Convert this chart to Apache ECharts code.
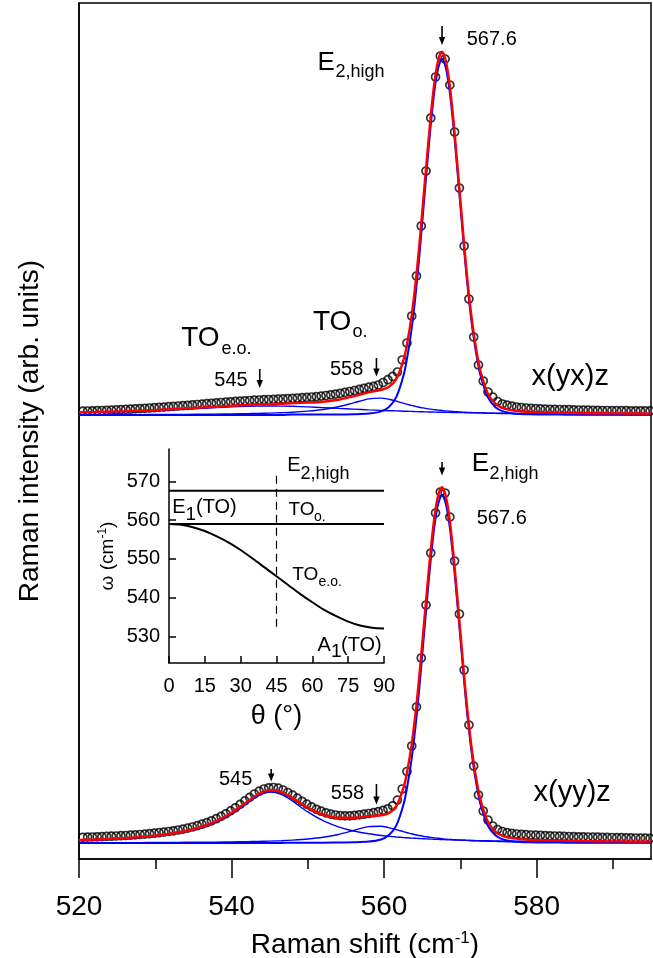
<!DOCTYPE html>
<html>
<head>
<meta charset="utf-8">
<title>Raman spectra</title>
<script src="https://cdn.jsdelivr.net/npm/echarts@6.0.0/dist/echarts.min.js"></script>
<style>
  html, body { margin: 0; padding: 0; background: #fff; }
  #chart-container { width: 653px; height: 958px; }
</style>
</head>
<body>
<div id="chart-container"></div>
<script>
// Measured spectra (circles): Raman shift in cm-1, intensity in arb. units (stacked)
const ramanShift = [
  520.5, 521.125, 521.75, 522.375, 523, 523.625, 524.25, 524.875, 525.5, 526.125,
  526.75, 527.375, 528, 528.625, 529.25, 529.875, 530.5, 531.125, 531.75, 532.375,
  533, 533.625, 534.25, 534.875, 535.5, 536.125, 536.75, 537.375, 538, 538.625,
  539.25, 539.875, 540.5, 541.125, 541.75, 542.375, 543, 543.625, 544.25, 544.875,
  545.5, 546.125, 546.75, 547.375, 548, 548.625, 549.25, 549.875, 550.5, 551.125,
  551.75, 552.375, 553, 553.625, 554.25, 554.875, 555.5, 556.125, 556.75, 557.375,
  558, 558.625, 559.25, 559.875, 560.5, 561.125, 561.75, 562.375, 563, 563.625,
  564.25, 564.875, 565.5, 566.125, 566.75, 567.375, 568, 568.625, 569.25, 569.875,
  570.5, 571.125, 571.75, 572.375, 573, 573.625, 574.25, 574.875, 575.5, 576.125,
  576.75, 577.375, 578, 578.625, 579.25, 579.875, 580.5, 581.125, 581.75, 582.375,
  583, 583.625, 584.25, 584.875, 585.5, 586.125, 586.75, 587.375, 588, 588.625,
  589.25, 589.875, 590.5, 591.125, 591.75, 592.375, 593, 593.625, 594.25, 594.875
];
const yxCounts = [
  447.8, 448.0, 448.1, 448.3, 448.5, 448.7, 448.9, 449.1, 449.4, 449.6,
  449.8, 450.1, 450.4, 450.7, 451.0, 451.3, 451.6, 451.9, 452.3, 452.6,
  453.0, 453.3, 453.7, 454.1, 454.5, 454.9, 455.3, 455.7, 456.1, 456.5,
  456.9, 457.2, 457.6, 457.9, 458.2, 458.5, 458.8, 459.0, 459.3, 459.5,
  459.7, 459.9, 460.1, 460.4, 460.7, 461.0, 461.3, 461.6, 462.0, 462.4,
  462.9, 463.5, 464.2, 464.9, 465.7, 466.6, 467.5, 468.5, 469.6, 470.7,
  471.8, 472.6, 474.0, 476.5, 479.3, 482.6, 487.0, 499.0, 516.0, 543,
  583, 633, 688, 741, 782, 803, 800, 774, 727, 671,
  613, 560, 522, 494, 478, 467, 462, 457.5, 455, 453.8,
  452.8, 452, 451.5, 451, 450.6, 450.3, 450.1, 449.9, 449.7, 449.6,
  449.5, 449.4, 449.3, 449.1, 449.0, 448.9, 448.8, 448.7, 448.6, 448.5,
  448.5, 448.4, 448.4, 448.3, 448.3, 448.2, 448.2, 448.2, 448.1, 448.1
];
const yyCounts = [
  21.7, 21.9, 22.0, 22.2, 22.4, 22.6, 22.8, 23.0, 23.3, 23.5,
  23.8, 24.1, 24.5, 24.9, 25.3, 25.8, 26.3, 26.9, 27.5, 28.2,
  29.0, 29.9, 30.9, 32.0, 33.3, 34.8, 36.4, 38.2, 40.3, 42.6,
  45.2, 48.1, 51.2, 54.6, 58.1, 61.6, 65.0, 67.8, 70.0, 71.2,
  71.5, 70.8, 69.0, 66.5, 63.9, 60.8, 57.7, 54.8, 52.1, 49.7,
  47.8, 46.2, 44.9, 44.0, 43.4, 43.1, 43.2, 43.6, 44.2, 44.8,
  45.5, 46.3, 47.3, 48.6, 50.2, 53.2, 58.9, 70.0, 87.5, 113,
  152, 201, 254, 306, 346, 367, 366, 342, 298, 245,
  189, 134, 93, 64, 48, 39, 33, 29.5, 27.5, 26.3,
  25.6, 25.0, 24.6, 24.3, 24.0, 23.8, 23.6, 23.4, 23.2, 23.0,
  22.8, 22.6, 22.5, 22.3, 22.2, 22.1, 22.0, 21.9, 21.8, 21.7,
  21.6, 21.5, 21.4, 21.3, 21.2, 21.1, 21.0, 20.9, 20.8, 20.7
];

// Fitted curves (red: total fit, blue: components)
const fitShift = [
  520, 522, 524, 526, 528, 530, 532, 534, 536, 538,
  540, 542, 543.5, 545, 546.5, 548, 550, 552, 554, 556,
  558, 559.6, 560.6, 561.6, 562.6, 563.1, 563.6, 564.1, 564.6, 565.1,
  565.6, 566.1, 566.6, 567.1, 567.6, 568.1, 568.6, 569.1, 569.6, 570.1,
  570.6, 571.1, 571.6, 572.1, 572.6, 573.6, 574.6, 575.6, 577, 579,
  581, 583, 585, 587, 589, 591, 593, 595
];
const yxFit = [
  446.7, 447.0, 447.4, 447.8, 448.4, 449.0, 449.7, 450.5, 451.4, 452.3,
  453.2, 454.0, 454.5, 454.9, 455.2, 455.9, 456.4, 457.3, 459.3, 462.6,
  466.6, 469.1, 471.9, 479.7, 500.3, 518.7, 542.6, 573.6, 611.8, 655.4,
  699.2, 741.3, 776.3, 798.8, 807.2, 797.9, 774.3, 738.4, 695.2, 650.4,
  605.6, 566.3, 534.0, 508.8, 489.0, 465.6, 455.3, 450.8, 448.5, 447.2,
  446.7, 446.3, 446.0, 445.8, 445.7, 445.6, 445.5, 445.4
];
const yxE2 = [
  444.0, 444.0, 444.0, 444.0, 444.0, 444.0, 444.0, 444.0, 444.0, 444.0,
  444.0, 444.0, 444.0, 444.0, 444.0, 444.4, 444.4, 444.4, 444.5, 444.7,
  445.4, 447.6, 451.8, 461.8, 484.9, 504.5, 529.4, 561.5, 600.6, 645.1,
  689.6, 732.4, 768.0, 791.1, 800.0, 791.1, 768.0, 732.4, 689.6, 645.1,
  600.6, 561.5, 529.4, 504.5, 484.9, 461.8, 451.8, 447.6, 445.6, 444.7,
  444.5, 444.4, 444.3, 444.3, 444.3, 444.3, 444.3, 444.3
];
const yxTOo = [
  444.3, 444.3, 444.3, 444.4, 444.4, 444.5, 444.6, 444.6, 444.8, 444.9,
  445.1, 445.3, 445.6, 445.9, 446.3, 446.8, 447.9, 449.5, 452.2, 456.1,
  460.1, 460.9, 459.8, 457.8, 455.6, 454.6, 453.6, 452.7, 451.8, 451.1,
  450.4, 449.9, 449.3, 448.9, 448.5, 448.1, 447.8, 447.5, 447.2, 447.0,
  446.7, 446.6, 446.4, 446.2, 446.1, 445.8, 445.6, 445.5, 445.2, 445.0,
  444.9, 444.7, 444.6, 444.5, 444.5, 444.4, 444.4, 444.3
];
const yxTOeo = [
  446.4, 446.7, 447.0, 447.5, 447.9, 448.5, 449.1, 449.9, 450.6, 451.4,
  452.1, 452.7, 452.9, 453.0, 452.9, 452.7, 452.1, 451.4, 450.6, 449.9,
  449.1, 448.6, 448.3, 448.1, 447.8, 447.7, 447.6, 447.4, 447.3, 447.2,
  447.1, 447.0, 446.9, 446.8, 446.8, 446.7, 446.6, 446.5, 446.4, 446.4,
  446.3, 446.2, 446.2, 446.1, 446.1, 445.9, 445.8, 445.7, 445.6, 445.5,
  445.3, 445.2, 445.1, 445.0, 444.9, 444.9, 444.8, 444.7
];
const yyFit = [
  19.0, 19.5, 20.1, 20.9, 22.0, 23.4, 25.3, 28.0, 32.0, 37.8,
  46.2, 57.1, 64.8, 68.9, 67.1, 61.1, 51.4, 44.4, 41.2, 41.2,
  42.9, 43.8, 45.8, 52.8, 72.6, 90.5, 113.6, 143.8, 181.1, 223.7,
  266.4, 307.4, 341.6, 363.6, 371.7, 362.5, 339.5, 304.3, 262.1, 218.3,
  174.5, 135.9, 104.3, 79.8, 60.4, 37.4, 27.3, 22.8, 20.6, 19.3,
  18.7, 18.4, 18.0, 17.9, 17.7, 17.6, 17.5, 17.4
];
const yyE2 = [
  16.0, 16.0, 16.0, 16.0, 16.0, 16.0, 16.0, 16.0, 16.0, 16.0,
  16.0, 16.0, 16.0, 16.0, 16.0, 16.3, 16.3, 16.3, 16.5, 16.7,
  17.4, 19.5, 23.7, 33.4, 56.0, 75.2, 99.5, 130.8, 169.1, 212.6,
  256.1, 297.9, 332.7, 355.3, 364.0, 355.3, 332.7, 297.9, 256.1, 212.6,
  169.1, 130.8, 99.5, 75.2, 56.0, 33.4, 23.7, 19.5, 17.6, 16.7,
  16.5, 16.4, 16.3, 16.3, 16.3, 16.3, 16.3, 16.3
];
const yyTOo = [
  16.3, 16.3, 16.3, 16.4, 16.4, 16.5, 16.6, 16.7, 16.8, 16.9,
  17.1, 17.4, 17.6, 17.9, 18.3, 18.9, 20.0, 21.7, 24.5, 28.5,
  32.4, 32.8, 31.4, 29.4, 27.2, 26.2, 25.2, 24.3, 23.5, 22.8,
  22.2, 21.6, 21.1, 20.7, 20.3, 19.9, 19.6, 19.4, 19.1, 18.9,
  18.7, 18.5, 18.3, 18.2, 18.0, 17.8, 17.6, 17.4, 17.2, 17.0,
  16.8, 16.7, 16.6, 16.5, 16.5, 16.4, 16.4, 16.3
];
const yyTOeo = [
  18.7, 19.2, 19.8, 20.5, 21.5, 22.9, 24.7, 27.4, 31.2, 36.9,
  45.1, 55.7, 63.2, 66.9, 64.7, 57.9, 47.1, 38.3, 32.2, 28.0,
  25.2, 23.5, 22.7, 22.0, 21.4, 21.2, 20.9, 20.7, 20.5, 20.3,
  20.1, 19.9, 19.7, 19.6, 19.4, 19.3, 19.2, 19.0, 18.9, 18.8,
  18.7, 18.6, 18.5, 18.4, 18.3, 18.2, 18.0, 17.9, 17.8, 17.6,
  17.4, 17.3, 17.1, 17.0, 16.9, 16.9, 16.8, 16.7
];

// Inset: phonon frequency vs angle theta
const thetaDeg = [0, 5, 10, 15, 20, 25, 30, 35, 40, 45, 50, 55, 60, 65, 70, 75, 80, 85, 90];
const toEOFreq = [559.0, 558.8, 558.2, 557.2, 555.8, 554.2, 552.3, 550.1, 547.8, 545.5,
                  543.2, 540.9, 538.8, 536.8, 535.2, 533.8, 532.8, 532.2, 532.0];
const thetaEnds = [0, 90];
const e2HighFreq = [567.6, 567.6];
const e1TOFreq = [559.0, 559.0];
const dashTheta = [45, 45];
const dashFreq = [571.5, 531.5];
const insetFreqTicks = [530, 540, 550, 560, 570];

// Peak markers: [shift, top, tip] in data units of the main plot
const peakArrows = [
  [567.6, 833, 814], [559.0, 501, 482.5], [543.7, 490, 471],
  [567.6, 397, 383.5], [545.2, 90, 77.5], [559.0, 75, 54.5]
];

const FONT = "'Liberation Sans', Arial, Helvetica, sans-serif";

// text annotations: [text, left x, middle y, font size]
const textLabels = [
  ['567.6', 466.7, 39.3, 20],
  ['E', 317.6, 62.5, 26], ['2,high', 335.5, 72.5, 18],
  ['TO', 313, 322.5, 28], ['o.', 352.5, 332, 18],
  ['TO', 181.2, 338.3, 28], ['e.o.', 221.5, 349.5, 18],
  ['545', 214.3, 380, 20],
  ['558', 330, 369.3, 20],
  ['x(yx)z', 531.6, 377, 29],
  ['E', 471.7, 464.2, 26], ['2,high', 489.5, 474, 18],
  ['567.6', 476.7, 518.3, 20],
  ['545', 219, 779.3, 20],
  ['558', 330.8, 793.5, 20],
  ['x(yy)z', 533.5, 793, 29],
  ['E', 287.3, 465, 20], ['2,high', 300.5, 474, 18],
  ['E', 172.3, 507.8, 20], ['1', 185.5, 515, 19], ['(TO)', 196, 507.8, 20],
  ['TO', 288.4, 510, 19], ['o.', 314, 517, 14],
  ['TO', 292.2, 575, 19], ['e.o.', 318.5, 582, 14],
  ['A', 317.6, 645.5, 20], ['1', 331, 652, 19], ['(TO)', 341, 645.5, 20]
];

function pairs(xs, ys) {
  return xs.map((x, i) => [x, ys[i]]);
}

const chartContainer = document.getElementById('chart-container');
const myChart = echarts.init(chartContainer, null, { renderer: 'canvas' });

const black = '#000';
const red = '#ff0000';
const blue = '#0000ff';

function fitLine(name, ys, color, width) {
  return {
    name: name,
    type: 'line',
    xAxisIndex: 0,
    yAxisIndex: 0,
    data: pairs(fitShift, ys),
    showSymbol: false,
    smooth: 0.3,
    silent: true,
    lineStyle: { color: color, width: width },
    itemStyle: { color: color }
  };
}

function dataPoints(name, ys) {
  return {
    name: name,
    type: 'scatter',
    xAxisIndex: 0,
    yAxisIndex: 0,
    data: pairs(ramanShift, ys),
    symbol: 'circle',
    symbolSize: 8,
    silent: true,
    itemStyle: { color: 'rgba(255,255,255,0)', borderColor: black, borderWidth: 1.7 }
  };
}

function insetLine(xs, ys, dashed) {
  return {
    type: 'line',
    xAxisIndex: 2,
    yAxisIndex: 1,
    data: pairs(xs, ys),
    showSymbol: false,
    smooth: dashed ? false : 0.3,
    silent: true,
    lineStyle: { color: black, width: dashed ? 1.2 : 2, type: dashed ? [8, 5] : 'solid' }
  };
}

const option = {
  animation: false,
  backgroundColor: '#fff',
  grid: [
    { left: 79, right: 2, top: 3, bottom: 99, show: true, borderColor: black, borderWidth: 1.5,
      containLabel: false, outerBoundsMode: 'none' },
    { left: 169, right: 269, top: 449, bottom: 295, show: false,
      containLabel: false, outerBoundsMode: 'none' }
  ],
  xAxis: [
    {
      type: 'value', gridIndex: 0, min: 520, max: 595, interval: 20,
      axisLine: { onZero: false, lineStyle: { color: black, width: 1.5 } },
      axisTick: { length: 19, customValues: [520, 540, 560, 580], lineStyle: { color: black, width: 1.5 } },
      axisLabel: { customValues: [520, 540, 560, 580], fontSize: 28, fontFamily: FONT, color: black, margin: 34 },
      splitLine: { show: false },
      name: '{t|Raman shift (cm}{s|-1}{t|)}',
      nameLocation: 'middle',
      nameGap: 71,
      nameTextStyle: {
        rich: {
          t: { fontSize: 28, fontFamily: FONT, color: black },
          s: { fontSize: 17, fontFamily: FONT, color: black, padding: [0, 0, 14, 0] }
        }
      }
    },
    {
      // minor ticks at the odd tens
      type: 'value', gridIndex: 0, min: 520, max: 595, position: 'bottom',
      axisLine: { show: false, onZero: false },
      axisTick: { length: 10, customValues: [530, 550, 570, 590], lineStyle: { color: black, width: 1.5 } },
      axisLabel: { show: false },
      splitLine: { show: false }
    },
    {
      type: 'value', gridIndex: 1, min: 0, max: 90, interval: 15,
      axisLine: { onZero: false, lineStyle: { color: black, width: 1.5 } },
      axisTick: { inside: true, length: 7, lineStyle: { color: black, width: 1.5 } },
      axisLabel: { fontSize: 20, fontFamily: FONT, color: black, margin: 13 },
      splitLine: { show: false },
      name: 'θ (°)',
      nameLocation: 'middle',
      nameGap: 40,
      nameTextStyle: { fontSize: 27, fontFamily: FONT, color: black }
    }
  ],
  yAxis: [
    {
      type: 'value', gridIndex: 0, min: 0, max: 856,
      axisLine: { show: true, onZero: false, lineStyle: { color: black, width: 1.5 } },
      axisTick: { show: false },
      axisLabel: { show: false },
      splitLine: { show: false },
      name: 'Raman intensity (arb. units)',
      nameLocation: 'middle',
      nameGap: 35,
      nameTextStyle: { fontSize: 28, fontFamily: FONT, color: black }
    },
    {
      type: 'value', gridIndex: 1, min: 523.1, max: 578.4,
      axisLine: { show: true, onZero: false, lineStyle: { color: black, width: 1.5 } },
      axisTick: { inside: true, length: 7, customValues: insetFreqTicks, lineStyle: { color: black, width: 1.5 } },
      axisLabel: { customValues: insetFreqTicks, fontSize: 20, fontFamily: FONT, color: black, margin: 9 },
      splitLine: { show: false },
      name: '{t|ω (cm}{s|-1}{t|)}',
      nameLocation: 'middle',
      nameGap: 51,
      nameTextStyle: {
        rich: {
          t: { fontSize: 19, fontFamily: FONT, color: black },
          s: { fontSize: 12, fontFamily: FONT, color: black, padding: [0, 0, 9, 0] }
        }
      }
    }
  ],
  series: [
    dataPoints('x(yx)z', yxCounts),
    dataPoints('x(yy)z', yyCounts),
    fitLine('yx E2', yxE2, blue, 2),
    fitLine('yx TOo', yxTOo, blue, 1.4),
    fitLine('yx TOeo', yxTOeo, blue, 1.4),
    fitLine('yy E2', yyE2, blue, 2),
    fitLine('yy TOo', yyTOo, blue, 1.4),
    fitLine('yy TOeo', yyTOeo, blue, 1.4),
    fitLine('yx fit', yxFit, red, 2.4),
    fitLine('yy fit', yyFit, red, 2.4),
    insetLine(thetaEnds, e2HighFreq, false),
    insetLine(thetaEnds, e1TOFreq, false),
    insetLine(thetaDeg, toEOFreq, false),
    insetLine(dashTheta, dashFreq, true)
  ]
};

myChart.setOption(option);

// Annotations: texts and peak arrows
const graphics = textLabels.map(([text, x, y, size]) => ({
  type: 'text',
  x: x,
  y: y,
  silent: true,
  z: 100,
  style: {
    text: text,
    fontSize: size,
    fontFamily: FONT,
    fill: black,
    align: 'left',
    verticalAlign: 'middle',
    textAlign: 'left',
    textVerticalAlign: 'middle'
  }
}));

peakArrows.forEach(([shift, top, tip]) => {
  const p0 = myChart.convertToPixel({ gridIndex: 0 }, [shift, top]);
  const p1 = myChart.convertToPixel({ gridIndex: 0 }, [shift, tip]);
  graphics.push({
    type: 'line', silent: true, z: 100,
    shape: { x1: p0[0], y1: p0[1], x2: p1[0], y2: p1[1] - 5 },
    style: { stroke: black, lineWidth: 1.6 }
  });
  graphics.push({
    type: 'polygon', silent: true, z: 100,
    shape: { points: [[p1[0] - 3.2, p1[1] - 8], [p1[0] + 3.2, p1[1] - 8], [p1[0], p1[1]]] },
    style: { fill: black }
  });
});

myChart.setOption({ graphic: graphics });
</script>
</body>
</html>
